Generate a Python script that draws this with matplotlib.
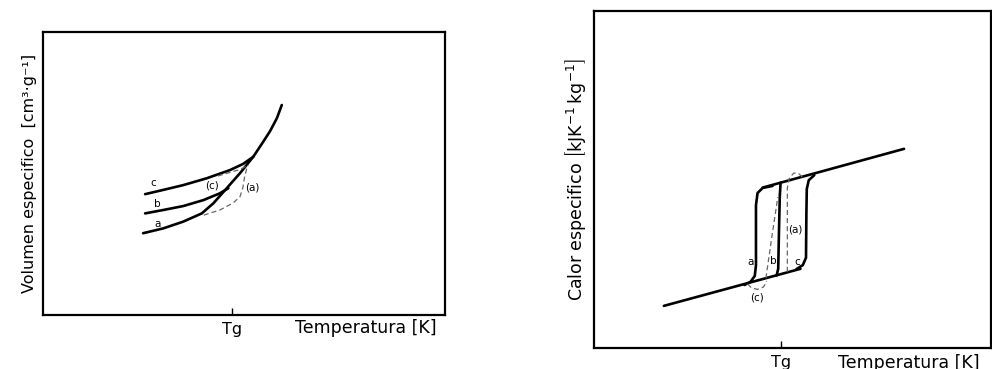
import matplotlib
matplotlib.use("Agg")
import matplotlib.pyplot as plt

plt.rcParams['font.family'] = ['DejaVu Sans']
plt.rcParams['mathtext.fontset'] = 'dejavusans'

# ---- left panel: specific volume vs temperature (arbitrary units 0-100) ----
vol_a_x = [24.9, 29.9, 34.9, 39.5, 42.4, 45.7, 49.0, 52.3, 54.4, 56.5, 58.2, 59.4]
vol_a_y = [28.9, 30.6, 33.0, 35.9, 39.5, 44.8, 50.1, 55.9, 60.4, 65.0, 69.6, 74.2]
vol_b_x = [25.4, 29.9, 34.9, 39.9, 44.0, 46.1]
vol_b_y = [35.9, 37.1, 38.5, 40.6, 43.0, 44.8]
vol_c_x = [25.4, 29.9, 34.9, 40.7, 46.5, 49.8, 52.3]
vol_c_y = [42.7, 44.2, 45.9, 48.3, 51.2, 53.4, 55.9]
vol_da_x = [40.0, 44.0, 47.3, 49.0, 49.7, 50.1, 50.7, 51.0]
vol_da_y = [35.3, 37.1, 39.6, 41.8, 44.9, 48.4, 51.9, 53.0]
vol_dc_x = [43.5, 46.5, 49.0, 50.7]
vol_dc_y = [49.1, 50.4, 51.4, 52.7]
vol_tg = 47.0
vol_labels = ["c", "b", "a", "(c)", "(a)"]
vol_label_x = [27.4, 28.4, 28.4, 42.0, 52.0]
vol_label_y = [46.6, 39.2, 32.2, 45.7, 44.9]

# ---- right panel: specific heat vs temperature ----
cp_glass_x = [17.6, 52.0]
cp_glass_y = [12.5, 23.5]
cp_liq_x = [42.5, 78.1]
cp_liq_y = [47.6, 59.1]
cp_a_x = [37.9, 39.4, 40.5, 40.8, 40.8, 41.2, 42.5, 45.0]
cp_a_y = [18.7, 19.6, 21.4, 24.6, 42.4, 46.0, 47.5, 48.1]
cp_b_x = [46.0, 46.4, 46.6, 46.8, 47.0]
cp_b_y = [21.5, 23.5, 35.0, 45.0, 49.1]
cp_c_x = [51.0, 52.6, 53.4, 53.5, 53.6, 54.1, 55.5]
cp_c_y = [23.4, 24.6, 26.8, 40.0, 47.2, 49.8, 51.3]
cp_dc_x = [38.7, 39.7, 41.2, 42.7, 43.5]
cp_dc_y = [19.0, 17.8, 17.4, 18.1, 19.9]
cp_db_x = [43.3, 44.8, 46.3]
cp_db_y = [20.7, 33.0, 44.8]
cp_da_x = [48.7, 48.7, 49.2, 50.3, 51.5, 52.5]
cp_da_y = [22.6, 47.5, 50.4, 51.9, 51.8, 50.7]
cp_tg = 47.2
cp_labels = ["a", "b", "c", "(a)", "(c)"]
cp_label_x = [39.4, 45.1, 51.3, 50.8, 41.0]
cp_label_y = [25.6, 25.9, 25.6, 35.3, 14.9]

fig = plt.figure(figsize=(9.92, 3.69), dpi=100)
ax1 = fig.add_axes([43 / 992, 1 - 315 / 369, 402 / 992, 283 / 369])
ax2 = fig.add_axes([594 / 992, 1 - 348 / 369, 397 / 992, 337 / 369])

solid = dict(color="black", lw=1.9, solid_capstyle="round", solid_joinstyle="round")
dashed = dict(color="#666666", lw=0.9, ls=(0, (4, 2.5)))

ax1.plot(vol_a_x, vol_a_y, **solid)
ax1.plot(vol_b_x, vol_b_y, **solid)
ax1.plot(vol_c_x, vol_c_y, **solid)
ax1.plot(vol_da_x, vol_da_y, **dashed)
ax1.plot(vol_dc_x, vol_dc_y, **dashed)
for s, x, y in zip(vol_labels, vol_label_x, vol_label_y):
    ax1.text(x, y, s, fontsize=7.5, ha="center", va="center")

ax2.plot(cp_glass_x, cp_glass_y, **solid)
ax2.plot(cp_liq_x, cp_liq_y, **solid)
ax2.plot(cp_a_x, cp_a_y, **solid)
ax2.plot(cp_b_x, cp_b_y, **solid)
ax2.plot(cp_c_x, cp_c_y, **solid)
ax2.plot(cp_dc_x, cp_dc_y, **dashed)
ax2.plot(cp_db_x, cp_db_y, **dashed)
ax2.plot(cp_da_x, cp_da_y, **dashed)
for s, x, y in zip(cp_labels, cp_label_x, cp_label_y):
    ax2.text(x, y, s, fontsize=7.5, ha="center", va="center")

# x-label offsets in pixels (right end, vertical centre) below the axes corner
for ax, tg, off in ((ax1, vol_tg, (-8, -13)), (ax2, cp_tg, (-11, -15))):
    ax.set_xlim(0, 100)
    ax.set_ylim(0, 100)
    ax.set_yticks([])
    ax.set_xticks([tg])
    ax.set_xticklabels(["Tg"], fontsize=11.5)
    ax.tick_params(axis="x", direction="in", length=5, width=1, pad=5)
    for sp in ax.spines.values():
        sp.set_linewidth(1.6)
    ax.annotate("Temperatura [K]", xy=(1, 0), xycoords="axes fraction",
                xytext=off, textcoords="offset pixels",
                ha="right", va="center", fontsize=12.5)

ax1.set_ylabel("Volumen especifico  [cm³·g⁻¹]", fontsize=11.5, labelpad=4)
ax2.set_ylabel(r"Calor especifico $\left[\mathrm{kJK^{-1}\,kg^{-1}}\right]$",
               fontsize=12.5, labelpad=4)

fig.savefig("out.png", dpi=100)
